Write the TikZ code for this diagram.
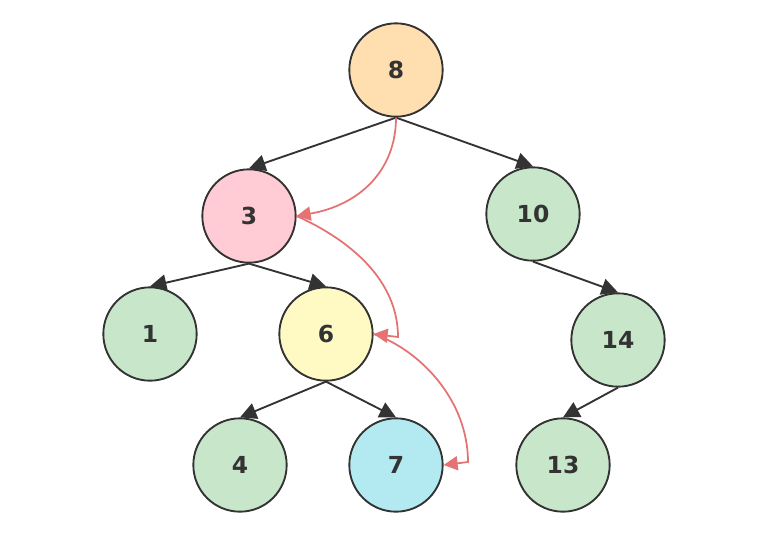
\documentclass[tikz,border=0pt]{standalone}
\usepackage{fontspec}
\setmainfont{DejaVu Sans}
\usetikzlibrary{arrows.meta}
\definecolor{cOrange}{HTML}{FFDFB0}
\definecolor{cPink}{HTML}{FFCCD5}
\definecolor{cGreen}{HTML}{C8E6C9}
\definecolor{cYellow}{HTML}{FFF9C4}
\definecolor{cCyan}{HTML}{B3EAF2}
\definecolor{cRed}{HTML}{E57373}
\definecolor{cLine}{HTML}{333333}
\begin{document}
\begin{tikzpicture}[x=0.03cm,y=-0.03cm,
    vertex/.style={circle,draw=cLine,line width=1.6pt,minimum size=2.8cm,inner sep=0pt,
      font=\fontsize{20}{24}\selectfont\bfseries,text=cLine},
    edge/.style={draw=cLine,line width=1.6pt,-{Triangle[length=14pt,width=14pt]}},
    path/.style={draw=cRed,line width=1.5pt,-{Triangle[length=12pt,width=12pt]}}]
    \useasboundingbox (0,0) rectangle (771,549);
    \node[vertex,fill=cOrange] (n8) at (396,70) {8};
    \node[vertex,fill=cPink] (n3) at (249,216) {3};
    \node[vertex,fill=cGreen] (n10) at (533,214) {10};
    \node[vertex,fill=cGreen] (n1) at (150,334) {1};
    \node[vertex,fill=cYellow] (n6) at (326,334) {6};
    \node[vertex,fill=cGreen] (n14) at (618,340) {14};
    \node[vertex,fill=cGreen] (n4) at (240,465) {4};
    \node[vertex,fill=cCyan] (n7) at (396,465) {7};
    \node[vertex,fill=cGreen] (n13) at (563,465) {13};
    % tree edges
    \draw[edge] (n8.south) -- (n3.north);
    \draw[edge] (n8.south) -- (n10.north);
    \draw[edge] (n3.south) -- (n1.north);
    \draw[edge] (n3.south) -- (n6.north);
    \draw[edge] (n10.south) -- (n14.north);
    \draw[edge] (n6.south) -- (n4.north);
    \draw[edge] (n6.south) -- (n7.north);
    \draw[edge] (n14.south) -- (n13.north);
    % search path
    \draw[path] (n8.south) .. controls (396,170) and (360,205) .. (n3.east);
    \draw[path] (n3.east) .. controls (350,240) and (398,280) .. (398,337) -- (n6.east);
    \draw[path] (n6.east) .. controls (420,350) and (468,400) .. (468,462) -- (n7.east);
\end{tikzpicture}
\end{document}
